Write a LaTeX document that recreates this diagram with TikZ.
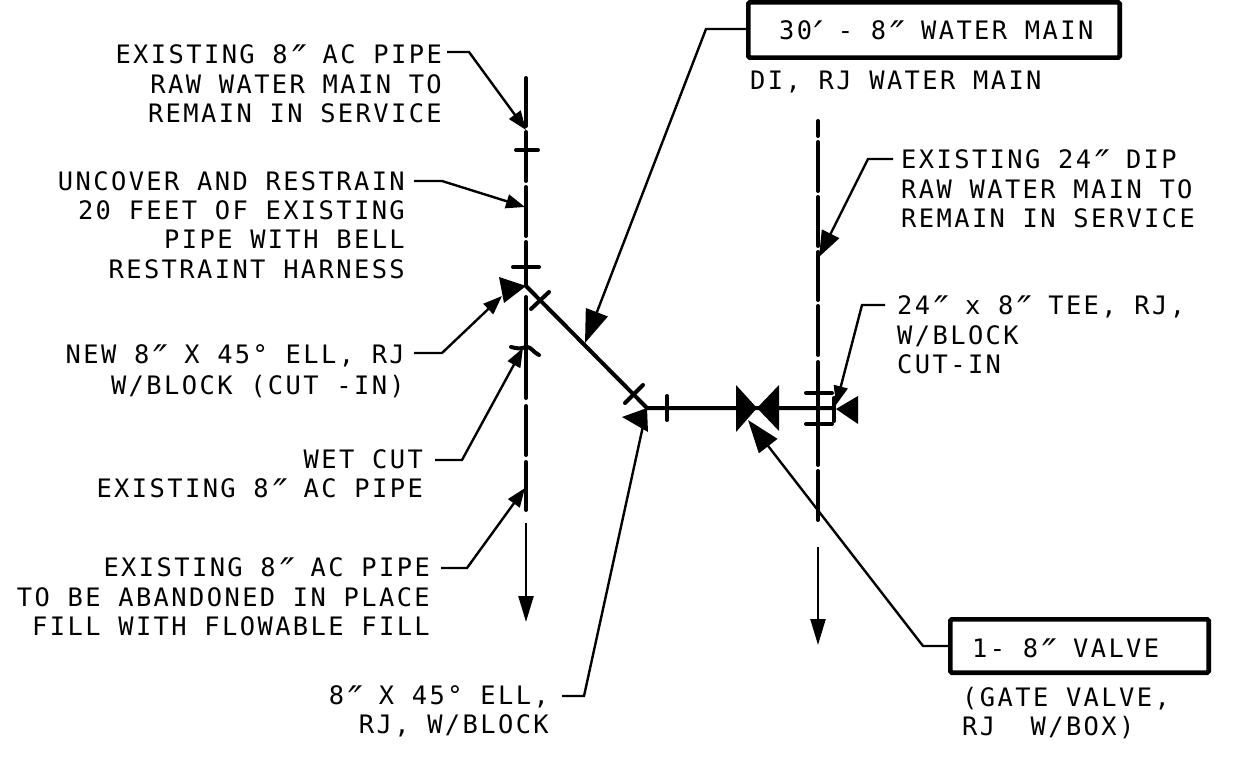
\documentclass[tikz,border=0pt]{standalone}
\usepackage{fontspec}
\setmainfont{DejaVu Sans Mono}[LetterSpace=9.5]
\usetikzlibrary{arrows.meta}
\newcommand{\dq}{\makebox[17.2pt]{\raisebox{-9pt}[0pt][0pt]{\fontsize{38}{38}\selectfont\textit{″}}}}
\newcommand{\sq}{\makebox[8pt]{\raisebox{-9pt}[0pt][0pt]{\fontsize{38}{38}\selectfont\textit{′}}}}
\tikzset{
  x=1pt,y=-1pt,
  lab/.style={inner sep=0pt,font=\fontsize{25.4}{29.3}\selectfont},
  labr/.style={lab,align=right,anchor=east},
  labl/.style={lab,align=left,anchor=west},
  pipe/.style={line width=4pt,line cap=round},
  thinpipe/.style={line width=2.4pt},
  tick/.style={line width=4pt,line cap=round},
  lead/.style={line width=2.4pt,line join=miter},
  leadS/.style={lead,-{Triangle[length=19pt,width=14pt]}},
  leadM/.style={lead,-{Triangle[length=26pt,width=19pt]}},
  leadB/.style={lead,-{Triangle[length=33pt,width=23pt]}},
  headdown/.style={thinpipe,-{Triangle[length=26pt,width=15pt]}},
  fitting/.style={fill=black,draw=none},
  tagbox/.style={draw,line width=4.7pt,rounded corners=1.5pt,inner sep=0pt,anchor=north west},
}
\begin{document}
\begin{tikzpicture}
\useasboundingbox (0,0) rectangle (1242,762);
% left pipe
\foreach \a/\b in {78/126,132/181,187/236,242/286,297/398,406/455,462/510}
  \draw[pipe] (526,\a) -- (526,\b);
\coordinate (LA) at (526,523); \coordinate (LB) at (526,622);
\draw[headdown] (LA) -- (LB);
\draw[tick] (516,150) -- (538,150);
\draw[tick] (513,267) -- (539,267);
\draw[line width=4pt,line cap=round] (511,347) .. controls (522,350) and (524,347) .. (527,347) .. controls (531,347) and (533,352) .. (539,355);
% right pipe
\foreach \a/\b in {121/136,142/191,197/246,252/300,306/355,362/465,471/520}
  \draw[pipe] (818,\a) -- (818,\b);
\coordinate (RA) at (818,547); \coordinate (RB) at (818,645);
\draw[headdown] (RA) -- (RB);
\draw[tick] (806,393) -- (832,393);
\draw[tick] (806,424) -- (832,424);
% branch
\coordinate (E1) at (526,286); \coordinate (E2) at (647,408); \coordinate (TE) at (834,408);
\draw[line width=4pt,line join=miter] (E1) -- (E2) -- (TE);
\draw[tick] (531,309) -- (549,292);
\draw[tick] (625,403) -- (643,385);
\draw[tick] (667,396) -- (667,420);
\draw[tick] (834,398) -- (834,421);
% fittings
\fill[fitting] (526,286) -- (499,277) -- (504,303) -- cycle;
\fill[fitting] (647,408) -- (622,417) -- (648,432) -- cycle;
\fill[fitting] (757,408) -- (736,385) -- (736,432) -- cycle;
\fill[fitting] (757,408) -- (779,385) -- (779,431) -- cycle;
\fill[fitting] (836,409) -- (858,396) -- (858,424) -- cycle;
% tag boxes
\node[tagbox,minimum width=371.3pt,minimum height=55.3pt] (B1) at (746,0) {};
\node[lab,anchor=west] (B1t) at (779,30) {30\sq{} - 8\dq{} WATER MAIN};
\node[tagbox,minimum width=258.3pt,minimum height=53.3pt] (B2) at (948,617) {};
\node[lab,anchor=west] (B2t) at (972,648) {1- 8\dq{} VALVE};
% labels
\node[labr] (T1) at (442,84) {EXISTING 8\dq{} AC PIPE\\RAW WATER MAIN TO\\REMAIN IN SERVICE};
\node[labr] (T2) at (405,225) {UNCOVER AND RESTRAIN\\20 FEET OF EXISTING\\PIPE WITH BELL\\RESTRAINT HARNESS};
\node[labr] (T3) at (405,371) {NEW 8\dq{} X 45° ELL, RJ\\[2pt]W/BLOCK (CUT -IN)};
\node[labr] (T4) at (423,474) {WET CUT\\EXISTING 8\dq{} AC PIPE};
\node[labr] (T5) at (430,597) {EXISTING 8\dq{} AC PIPE\\TO BE ABANDONED IN PLACE\\FILL WITH FLOWABLE FILL};
\node[labr] (T6) at (549,711) {8\dq{} X 45° ELL,\\RJ, W/BLOCK};
\node[labl] (T7) at (901,189) {EXISTING 24\dq{} DIP\\RAW WATER MAIN TO\\REMAIN IN SERVICE};
\node[labl] (T8) at (897,335) {24\dq{} x 8\dq{} TEE, RJ,\\W/BLOCK\\CUT-IN};
\node[lab,anchor=west] (T9) at (750,82) {DI, RJ WATER MAIN};
\node[labl] (T10) at (962,713) {(GATE VALVE,\\RJ\ \ W/BOX)};
% leaders
\coordinate (C1) at (469,52);  \coordinate (A1) at (526,130);
\draw[leadS] ([xshift=5pt]T1.east |- C1) -- (C1) -- (A1);
\coordinate (C2) at (442,181); \coordinate (A2) at (525,207);
\draw[leadS] ([xshift=9pt]T2.east |- C2) -- (C2) -- (A2);
\coordinate (C3) at (442,353); \coordinate (A3) at (502,296);
\draw[leadS] ([xshift=9pt]T3.east |- C3) -- (C3) -- (A3);
\coordinate (C4) at (462,460); \coordinate (A4) at (523,348);
\draw[leadS] ([xshift=12pt]T4.east |- C4) -- (C4) -- (A4);
\coordinate (C5) at (467,568); \coordinate (A5) at (525,488);
\draw[leadS] ([xshift=11pt]T5.east |- C5) -- (C5) -- (A5);
\coordinate (C6) at (584,696); \coordinate (A6) at (643,426);
\draw[lead] ([xshift=13pt]T6.east |- C6) -- (C6) -- (A6);
\coordinate (C7) at (868,159); \coordinate (A7) at (819,257);
\draw[leadM] ([xshift=-8pt]T7.west |- C7) -- (C7) -- (A7);
\coordinate (C8) at (862,305); \coordinate (A8) at (836,405);
\draw[leadS] ([xshift=-12pt]T8.west |- C8) -- (C8) -- (A8);
\coordinate (C9) at (706,29); \coordinate (A9) at (585,343);
\draw[leadB] (B1.west |- C9) -- (C9) -- (A9);
\coordinate (C10) at (923,646); \coordinate (A10) at (748,420);
\draw[leadB] (B2.west |- C10) -- (C10) -- (A10);
\end{tikzpicture}
\end{document}
